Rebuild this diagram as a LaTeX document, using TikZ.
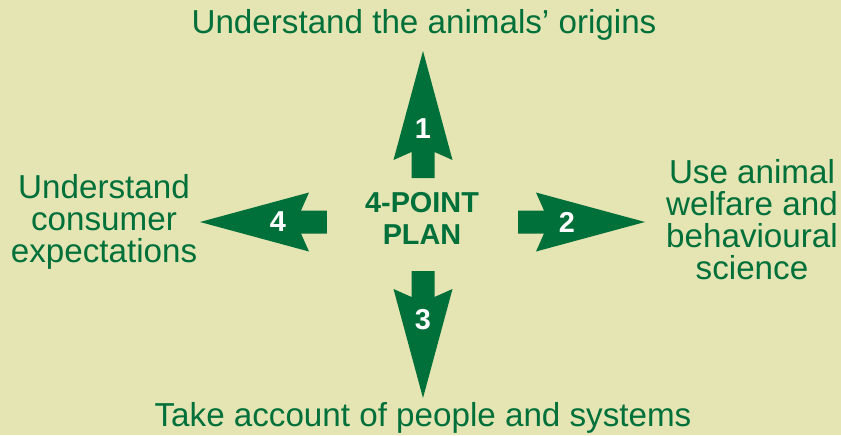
\documentclass[tikz,border=0pt]{standalone}
\usepackage{fontspec}
\setmainfont{Liberation Sans}
\usetikzlibrary{positioning}
\definecolor{planbg}{RGB}{229,229,180}
\definecolor{plangreen}{RGB}{0,112,58}

\begin{document}
\begin{tikzpicture}[
    x=0.025cm, y=0.025cm,
    aim/.style={font=\fontsize{23.6}{22.8}\selectfont, text=plangreen, align=center, inner sep=0pt},
    num/.style={font=\fontsize{20.5}{22}\selectfont\bfseries, text=white, inner sep=0pt}
]
    % Background and fixed margins
    \fill[planbg] (-423,-213) rectangle (418,222);
    \useasboundingbox (-423,-213) rectangle (418,222);

    % Four notched arrows around the centre
    \foreach \ang/\s/\num in {90/44/1, 0/95/2, 270/49/3, 180/96/4} {
        \fill[plangreen, rotate=\ang]
            (\s,-11.5) -- (\s+26,-11.5) -- (\s+18,-29.5) -- (\s+127,0)
            -- (\s+18,29.5) -- (\s+26,11.5) -- (\s,11.5) -- cycle;
        \node[num] (n\num) at ({(\s+49)*cos(\ang)},{(\s+49)*sin(\ang)}) {\num};
    }

    % Centre label
    \node[font=\fontsize{20.5}{22.8}\selectfont\bfseries, text=plangreen, align=center, inner sep=0pt] (plan) at (-1,3.5) {4-POINT\\PLAN};

    % The four aims
    \node[aim, anchor=base] (origins) at (1,189) {Understand the animals’ origins};
    \node[aim, anchor=base] (people) at (0,-204) {Take account of people and systems};
    \node[aim] (consumer) at (-319,0) {Understand\\consumer\\expectations};
    \node[aim] (science) at (329,2) {Use animal\\welfare and\\behavioural\\science};
\end{tikzpicture}
\end{document}
